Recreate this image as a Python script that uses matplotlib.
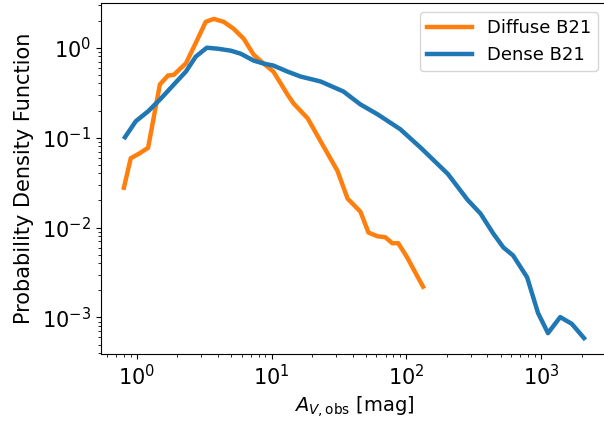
import matplotlib
matplotlib.use("Agg")
import matplotlib.pyplot as plt

# Diffuse B21
av_diffuse = [0.80, 0.90, 1.03, 1.21, 1.48, 1.70, 1.88, 2.31, 2.83, 3.24, 3.72, 4.41,
              5.23, 6.20, 7.35, 8.72, 10.3, 13.1, 14.5, 18.5, 23.1, 30.8, 36.6, 45.6,
              52.3, 61.0, 69.8, 78.6, 87.0, 101, 116, 133]
pdf_diffuse = [0.0277, 0.059, 0.066, 0.077, 0.39, 0.49, 0.50, 0.67, 1.26, 1.94, 2.09, 1.94,
               1.62, 1.26, 0.837, 0.666, 0.543, 0.302, 0.241, 0.164, 0.0909, 0.0427, 0.021, 0.015,
               0.0088, 0.0080, 0.0078, 0.0067, 0.0067, 0.0047, 0.0032, 0.0022]

# Dense B21
av_dense = [0.815, 0.98, 1.21, 1.51, 1.88, 2.31, 2.73, 3.30, 3.98, 4.97, 5.89, 7.35,
            8.72, 10.3, 13.1, 16.4, 23.1, 34.1, 45.6, 61.0, 90.1, 128, 203, 284,
            355, 441, 525, 619, 787, 949, 1125, 1386, 1689, 2082]
pdf_dense = [0.101, 0.152, 0.196, 0.273, 0.390, 0.543, 0.795, 1.0, 0.975, 0.927, 0.858, 0.719,
             0.666, 0.633, 0.543, 0.478, 0.421, 0.326, 0.234, 0.182, 0.124, 0.077, 0.0395, 0.0204,
             0.0143, 0.0086, 0.0060, 0.0049, 0.0028, 0.00112, 0.00067, 0.00101, 0.00085, 0.00059]

fig = plt.figure(figsize=(6.04, 4.24), dpi=100)
ax = fig.add_axes([0.167, 0.165, 0.838, 0.828])

ax.plot(av_diffuse, pdf_diffuse, color="#ff7f0e", lw=3.2, label="Diffuse B21")
ax.plot(av_dense, pdf_dense, color="#1f77b4", lw=3.2, label="Dense B21")
ax.set_xscale("log")
ax.set_yscale("log")

ax.set_xlabel(r"$A_{V,\rm obs}$ [mag]", fontsize=14)
ax.set_ylabel("Probability Density Function", fontsize=15, labelpad=6)
ax.tick_params(labelsize=15)
ax.legend(fontsize=13, loc="upper right", handlelength=2.5)

fig.savefig("out.png", dpi=100)
